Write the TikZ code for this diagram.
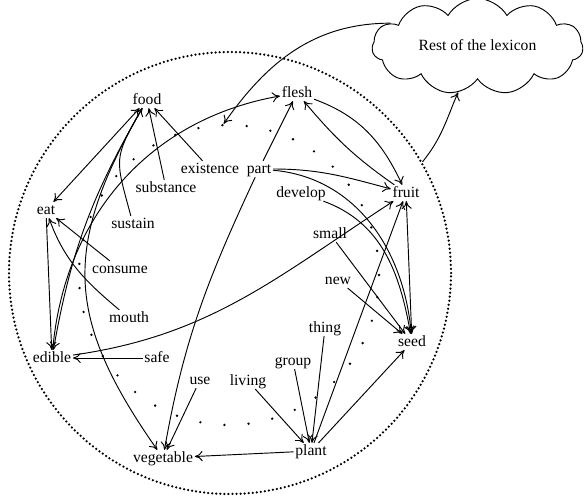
\documentclass[tikz,border=0pt]{standalone}
\usepackage{fontspec}
\setmainfont{Liberation Serif}
\usetikzlibrary{shapes.symbols,arrows.meta}
\begin{document}
\begin{tikzpicture}[x=0.64pt,y=0.64pt,
  >={To[length=5pt,width=6.5pt]},
  w/.style={inner sep=1pt,text height=1.5ex,text depth=0.25ex,font=\fontsize{10}{12}\selectfont},
  edge/.style={->,line width=0.6pt},
  bidir/.style={<->,line width=0.6pt}]
\useasboundingbox (0,0) rectangle (584,-497);
% circles
\node[circle,draw,line width=1.6pt,dash pattern=on 0pt off 2.6pt,line cap=round,minimum size=442*0.64pt,inner sep=0pt] (outer) at (230,-273) {};
\node[circle,draw,line width=1.7pt,dash pattern=on 0pt off 15.5pt,line cap=round,minimum size=300*0.64pt,inner sep=0pt] (inner) at (229,-275) {};
% words
\node[w] (food) at (147,-100) {food};
\node[w] (flesh) at (297,-93) {flesh};
\node[w] (existence) at (210,-169) {existence};
\node[w] (part) at (259,-169) {part};
\node[w] (substance) at (166,-188) {substance};
\node[w] (develop) at (301,-193) {develop};
\node[w] (fruit) at (406,-193) {fruit};
\node[w] (eat) at (46,-210) {eat};
\node[w] (sustain) at (133,-224) {sustain};
\node[w] (small) at (330,-234) {small};
\node[w] (consume) at (120,-269) {consume};
\node[w] (new) at (338,-280) {new};
\node[w] (mouth) at (129,-318) {mouth};
\node[w] (thing) at (325,-328) {thing};
\node[w] (seed) at (412,-342) {seed};
\node[w] (group) at (293,-361) {group};
\node[w] (edible) at (52,-358) {edible};
\node[w] (safe) at (157,-358) {safe};
\node[w] (use) at (200,-380) {use};
\node[w] (living) at (248,-381) {living};
\node[w] (vegetable) at (163,-458) {vegetable};
\node[w] (plant) at (311,-451) {plant};
\node[w,cloud,draw,line width=0.6pt,cloud puffs=11,cloud puff arc=120,aspect=2.4,minimum width=135pt,minimum height=55.7pt] (rest) at (477.5,-46.5) {Rest of the lexicon};
% connectors
\draw[bidir] (eat) -- (food);
\draw[edge] (substance) -- (food);
\draw[edge] (existence) -- (food);
\draw[edge] (sustain) to[out=105,in=240,looseness=1.4] (food);
\draw[edge] (food) to[out=240,in=80] (edible);
\draw[edge] (food) to[out=240,in=125,looseness=1.2] (vegetable);
\draw[edge] (consume) -- (eat);
\draw[edge] (mouth) to[out=140,in=-70] (eat);
\draw[edge] (eat) -- (edible);
\draw[edge] (safe) -- (edible);
\draw[edge] (edible) to[out=85,in=190] (flesh);
\draw[edge] (edible) to[out=8,in=213] (fruit);
\draw[edge] (part) -- (flesh);
\draw[edge] (part) to[out=0,in=165] (fruit);
\draw[edge] (part) to[out=-5,in=95] (seed);
\draw[edge] (develop) to[out=-20,in=100] (seed);
\draw[edge] (small) -- (seed.130);
\draw[edge] (new) -- (seed);
\draw[edge] (flesh) to[out=-20,in=115] (fruit);
\draw[edge] (fruit) to[out=145,in=-50] (flesh);
\draw[bidir] (fruit) -- (seed);
\draw[edge] (plant) -- (fruit);
\draw[edge] (plant) -- (seed);
\draw[edge] (living) -- (plant);
\draw[edge] (group) -- (plant);
\draw[edge] (thing) -- (plant);
\draw[edge] (plant) -- (vegetable);
\draw[edge] (use) -- (vegetable);
\draw[edge] (part) to[out=245,in=80] (vegetable);
\draw[edge] (outer.30) to[out=51,in=247] (rest);
\draw[edge] (rest.165) to[out=180,in=55] (inner.92);
\end{tikzpicture}
\end{document}
